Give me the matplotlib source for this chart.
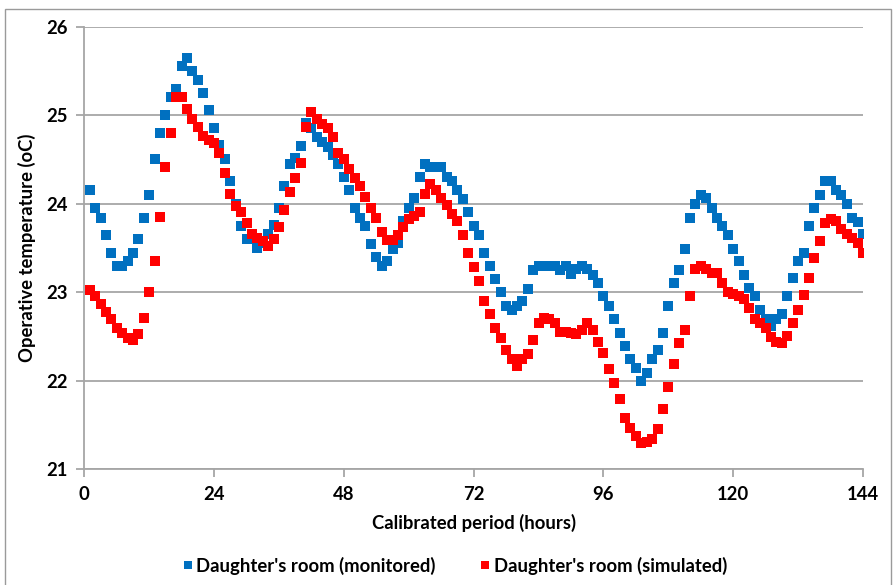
import numpy as np
import matplotlib
matplotlib.use("Agg")
import matplotlib.pyplot as plt
from matplotlib.patches import Rectangle

plt.rcParams['font.family'] = ['Lato', 'DejaVu Sans']
plt.rcParams['font.weight'] = 'bold'

hours = np.arange(1, 145)

monitored = [
    24.15, 23.95, 23.84, 23.65, 23.44, 23.29, 23.29, 23.35, 23.44, 23.60,
    23.84, 24.10, 24.50, 24.80, 25.00, 25.21, 25.30, 25.55, 25.65, 25.50,
    25.40, 25.25, 25.06, 24.85, 24.66, 24.50, 24.25, 24.00, 23.75, 23.60,
    23.60, 23.50, 23.55, 23.66, 23.76, 23.95, 24.20, 24.45, 24.51, 24.65,
    24.91, 24.85, 24.75, 24.70, 24.64, 24.55, 24.45, 24.30, 24.15, 23.95,
    23.84, 23.75, 23.54, 23.40, 23.30, 23.35, 23.49, 23.55, 23.80, 23.95,
    24.06, 24.30, 24.45, 24.41, 24.41, 24.41, 24.30, 24.25, 24.15, 24.05,
    23.90, 23.75, 23.65, 23.44, 23.30, 23.15, 23.00, 22.84, 22.80, 22.84,
    22.90, 23.04, 23.25, 23.29, 23.29, 23.29, 23.29, 23.25, 23.29, 23.20,
    23.26, 23.29, 23.26, 23.19, 23.10, 22.95, 22.84, 22.69, 22.54, 22.39,
    22.24, 22.14, 22.00, 22.09, 22.24, 22.35, 22.54, 22.84, 23.10, 23.25,
    23.49, 23.84, 24.00, 24.10, 24.06, 23.95, 23.84, 23.75, 23.64, 23.49,
    23.35, 23.19, 23.05, 22.95, 22.80, 22.69, 22.62, 22.69, 22.75, 22.95,
    23.16, 23.35, 23.44, 23.75, 23.95, 24.10, 24.25, 24.25, 24.15, 24.10,
    24.00, 23.84, 23.79, 23.66,
]

simulated = [
    23.02, 22.95, 22.86, 22.77, 22.69, 22.59, 22.54, 22.48, 22.46, 22.53,
    22.71, 23.00, 23.35, 23.85, 24.41, 24.80, 25.20, 25.21, 25.07, 24.96,
    24.87, 24.76, 24.72, 24.68, 24.57, 24.35, 24.11, 23.97, 23.90, 23.78,
    23.66, 23.61, 23.58, 23.52, 23.60, 23.73, 23.93, 24.13, 24.29, 24.46,
    24.86, 25.04, 24.96, 24.90, 24.85, 24.75, 24.57, 24.50, 24.39, 24.29,
    24.20, 24.07, 23.95, 23.84, 23.68, 23.59, 23.59, 23.64, 23.73, 23.82,
    23.86, 23.91, 24.11, 24.22, 24.15, 24.06, 23.98, 23.88, 23.80, 23.64,
    23.44, 23.28, 23.12, 22.90, 22.75, 22.59, 22.48, 22.35, 22.24, 22.16,
    22.24, 22.30, 22.46, 22.65, 22.71, 22.69, 22.65, 22.55, 22.55, 22.54,
    22.53, 22.57, 22.65, 22.57, 22.44, 22.31, 22.13, 21.97, 21.79, 21.58,
    21.46, 21.37, 21.29, 21.30, 21.34, 21.45, 21.68, 21.93, 22.19, 22.42,
    22.57, 22.95, 23.26, 23.29, 23.26, 23.21, 23.22, 23.10, 23.00, 22.98,
    22.95, 22.92, 22.82, 22.69, 22.65, 22.59, 22.49, 22.44, 22.42, 22.50,
    22.65, 22.80, 22.97, 23.16, 23.39, 23.58, 23.78, 23.82, 23.80, 23.71,
    23.66, 23.61, 23.55, 23.44,
]

x_ticks = [0, 24, 48, 72, 96, 120, 144]
y_ticks = [21, 22, 23, 24, 25, 26]

fs = 13.3

fig = plt.figure(figsize=(8.93, 5.85), dpi=100)
ax = fig.add_axes([0.0944, 0.1983, 0.8720, 0.7562])

# chart-area frame
fig.patches.append(Rectangle((4.5 / 893, -0.01), 886.5 / 893, 1 - 9 / 585 + 0.01,
                             transform=fig.transFigure, fill=False,
                             edgecolor='#9a9a9a', linewidth=1.0))

ax.plot(hours, monitored, 's', color='#0070C0', markersize=7, markeredgewidth=0,
        label="Daughter's room (monitored)", zorder=3)
ax.plot(hours, simulated, 's', color='#FF0000', markersize=7, markeredgewidth=0,
        label="Daughter's room (simulated)", zorder=3)

ax.set_xlim(0, 144)
ax.set_ylim(21, 26)
ax.set_xticks(x_ticks)
ax.set_yticks(y_ticks)
ax.yaxis.grid(True, color='#a6a6a6', linewidth=1.3)
ax.set_axisbelow(True)

for side in ['top', 'right']:
    ax.spines[side].set_visible(False)
for side in ['left', 'bottom']:
    ax.spines[side].set_color('#a6a6a6')
    ax.spines[side].set_linewidth(1.3)
ax.tick_params(axis='both', direction='out', length=6, width=1.3, color='#a6a6a6',
               labelsize=fs, pad=6)
for lbl in ax.get_xticklabels() + ax.get_yticklabels():
    lbl.set_fontweight('bold')

ax.set_xlabel('Calibrated period (hours)', fontsize=fs, fontweight='bold', labelpad=8)
ax.set_ylabel('Operative temperature (oC)', fontsize=fs, fontweight='bold', labelpad=7)

# legend sits centred on the chart area, not the plot area
ax.legend(loc='upper center', bbox_to_anchor=(0.4756, -0.16), ncol=2, frameon=False,
          handlelength=0.6, handletextpad=0.15, columnspacing=2.4,
          markerscale=0.9, prop={'weight': 'bold', 'size': fs})

fig.savefig('out.png', dpi=100)
